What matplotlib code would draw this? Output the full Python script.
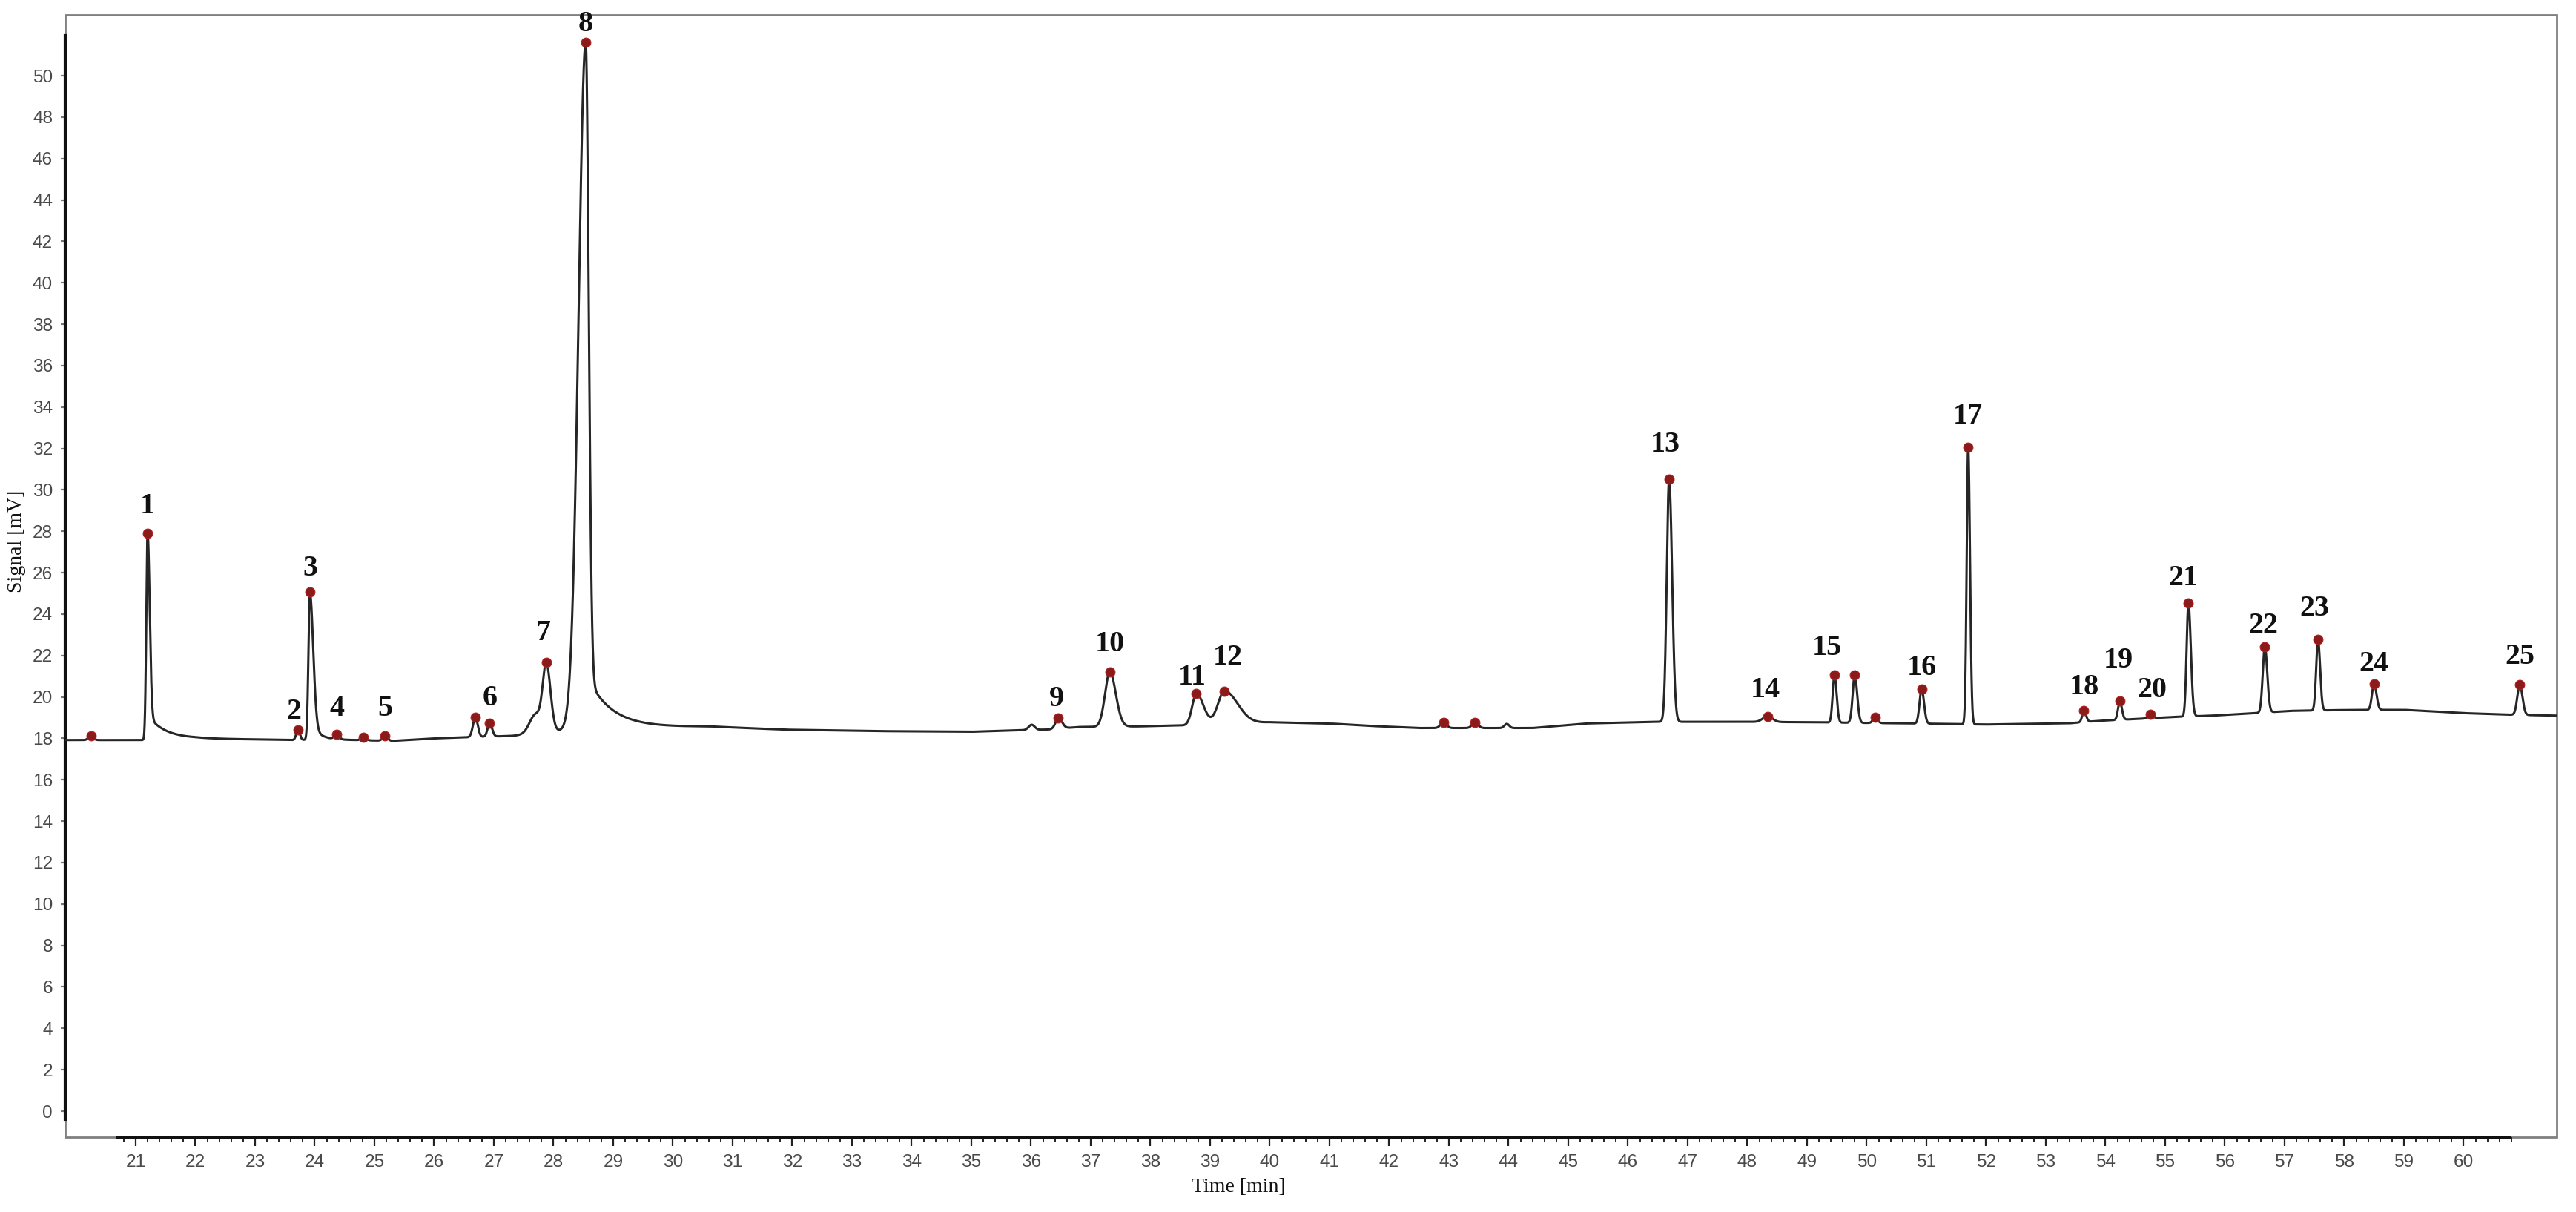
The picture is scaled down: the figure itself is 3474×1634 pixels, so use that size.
import numpy as np
import matplotlib
matplotlib.use("Agg")
import matplotlib.pyplot as plt
from matplotlib.patches import Rectangle

# ---------------- data ----------------
# integrated peaks (red markers): retention time [min], apex signal [mV]
peak_rt = [20.25, 21.20, 23.72, 23.92, 24.37, 24.82, 25.18, 26.69, 26.93, 27.88,
           28.54, 36.46, 37.32, 38.77, 39.24, 42.91, 43.44, 46.69, 48.34, 49.46,
           49.80, 50.14, 50.92, 51.70, 53.64, 54.24, 54.75, 55.39, 56.67, 57.56,
           58.50, 60.94]
peak_apex = [18.12, 27.90, 18.42, 25.07, 18.20, 18.06, 18.12, 19.03, 18.73, 21.68,
             51.62, 18.97, 21.20, 20.16, 20.28, 18.77, 18.78, 30.52, 19.07, 21.06,
             21.06, 19.03, 20.38, 32.06, 19.33, 19.80, 19.15, 24.53, 22.43, 22.79,
             20.64, 20.60]
peak_label = ['', '1', '2', '3', '4', '', '5', '', '6', '7',
              '8', '9', '10', '11', '12', '', '', '13', '14', '15',
              '', '', '16', '17', '18', '19', '20', '21', '22', '23',
              '24', '25']
# peak widths (front / back sigma, min) and tailing
peak_sigma_left = [0.04, 0.022, 0.03, 0.025, 0.04, 0.04, 0.04, 0.04, 0.035, 0.06,
                   0.12, 0.05, 0.08, 0.07, 0.11, 0.05, 0.05, 0.04, 0.08, 0.03,
                   0.035, 0.035, 0.035, 0.025, 0.03, 0.03, 0.04, 0.03, 0.035, 0.03,
                   0.035, 0.04]
peak_sigma_right = [0.04, 0.035, 0.03, 0.055, 0.04, 0.04, 0.04, 0.04, 0.04, 0.07,
                    0.05, 0.06, 0.10, 0.12, 0.22, 0.05, 0.05, 0.05, 0.08, 0.035,
                    0.04, 0.04, 0.04, 0.03, 0.035, 0.035, 0.04, 0.04, 0.04, 0.035,
                    0.04, 0.045]
peak_tail_frac = [0, 0.12, 0, 0.15, 0, 0, 0, 0, 0, 0,
                  0.08, 0, 0, 0, 0, 0, 0, 0, 0, 0,
                  0, 0, 0, 0, 0, 0, 0, 0, 0, 0,
                  0, 0]
peak_tail_tau = [0.1, 0.30, 0.1, 0.12, 0.1, 0.1, 0.1, 0.1, 0.1, 0.1,
                 0.40, 0.1, 0.1, 0.1, 0.1, 0.1, 0.1, 0.1, 0.1, 0.1,
                 0.1, 0.1, 0.1, 0.1, 0.1, 0.1, 0.1, 0.1, 0.1, 0.1,
                 0.1, 0.1]

# unmarked shoulders / small bumps
shoulder_rt = [27.70, 36.01, 43.97]
shoulder_level = [19.20, 18.66, 18.70]
shoulder_sigma = [0.10, 0.05, 0.04]

# baseline drift
base_t = [19.82, 20.60, 21.10, 22.00, 23.00, 23.60, 24.20, 25.30, 26.00, 26.50,
          27.30, 28.60, 30.60, 31.90, 33.50, 35.00, 35.50, 36.30, 36.80, 37.80,
          38.40, 39.00, 40.00, 41.00, 41.70, 42.50, 44.40, 45.30, 46.40, 48.00,
          49.00, 50.50, 52.00, 53.40, 53.90, 54.60, 55.10, 55.80, 56.40, 57.10,
          58.00, 59.00, 60.00, 60.70, 61.56]
base_v = [17.92, 17.92, 17.92, 17.98, 17.95, 17.92, 17.95, 17.88, 18.00, 18.05,
          18.12, 18.50, 18.57, 18.42, 18.35, 18.32, 18.37, 18.43, 18.55, 18.58,
          18.62, 18.65, 18.78, 18.72, 18.60, 18.50, 18.50, 18.72, 18.80, 18.80,
          18.78, 18.73, 18.67, 18.73, 18.85, 18.95, 19.03, 19.10, 19.20, 19.33,
          19.37, 19.38, 19.22, 19.15, 19.10]

x_ticks = list(range(21, 61))
y_ticks = list(range(0, 51, 2))

# ---------------- styling / layout ----------------
label_nudge = {  # (dx min, dy mV) tweaks of the peak-number labels
    '1': (0, 0.1), '2': (-0.07, -0.35), '3': (0, -0.1), '5': (0, 0.1),
    '7': (-0.05, 0.18), '8': (0, -0.35), '9': (-0.03, -0.28), '10': (0, 0.12),
    '11': (-0.07, -0.45), '12': (0.06, 0.39), '13': (-0.07, 0.45), '14': (-0.04, 0.05),
    '15': (-0.13, 0.08), '16': (0, -0.19), '17': (0, 0.25), '18': (0, -0.08),
    '19': (-0.03, 0.75), '20': (0.03, -0.05), '21': (-0.09, 0), '22': (-0.03, -0.21),
    '23': (-0.06, 0.25), '24': (0, -0.27), '25': (0, 0.12),
}

XLIM = (19.82, 61.56)
YLIM = (-1.254, 52.94)


def peak_shape(t, rt, sl, sr, f, tau):
    t = np.asarray(t, dtype=float)
    left = np.exp(-0.5 * ((t - rt) / sl) ** 2)
    dr = np.clip(t - rt, 0, None)
    right = (1 - f) * np.exp(-0.5 * (dr / sr) ** 2) + f * np.exp(-dr / tau)
    return np.where(t < rt, left, right)


comp_rt = list(peak_rt) + list(shoulder_rt)
comp_level = list(peak_apex) + list(shoulder_level)
comp_sl = list(peak_sigma_left) + list(shoulder_sigma)
comp_sr = list(peak_sigma_right) + list(shoulder_sigma)
comp_f = list(peak_tail_frac) + [0.0] * len(shoulder_rt)
comp_tau = list(peak_tail_tau) + [0.1] * len(shoulder_rt)

n = len(comp_rt)
A = np.zeros((n, n))
for j in range(n):
    A[:, j] = peak_shape(comp_rt, comp_rt[j], comp_sl[j], comp_sr[j], comp_f[j], comp_tau[j])
rhs = np.array(comp_level) - np.interp(comp_rt, base_t, base_v)
heights = np.linalg.solve(A, rhs)

t = np.arange(XLIM[0], XLIM[1], 0.002)
signal = np.interp(t, base_t, base_v)
for j in range(n):
    signal = signal + heights[j] * peak_shape(t, comp_rt[j], comp_sl[j], comp_sr[j],
                                              comp_f[j], comp_tau[j])

# ---------------- figure ----------------
fig = plt.figure(figsize=(17.37, 8.17), dpi=200)
ax = fig.add_axes([0.02533, 0.0618, 0.96719, 0.92596])
ax.set_xlim(*XLIM)
ax.set_ylim(*YLIM)

ax.plot(t, signal, color='#262626', lw=1.1, zorder=3)
ax.plot(peak_rt, peak_apex, 'o', ms=4.6, color='#8b1a1a', mec='#b02020', mew=0.4,
        zorder=4, clip_on=False)

for rt, apex, lab in zip(peak_rt, peak_apex, peak_label):
    if not lab:
        continue
    dx, dy = label_nudge.get(lab, (0, 0))
    ax.text(rt + dx, apex + 0.88 + dy, lab, ha='center', va='baseline',
            fontfamily='Liberation Serif', fontweight='bold', fontsize=14.4,
            color='#111111', zorder=6, clip_on=False)

# frame and spines
for s in ['top', 'right']:
    ax.spines[s].set_visible(False)
ax.add_patch(Rectangle((0, 0), 1, 1, transform=ax.transAxes, fill=False,
                       ec='#808080', lw=1.0, zorder=1, clip_on=False))
ax.spines['left'].set_bounds(-0.4, 51.95)
ax.spines['left'].set_color('#111111')
ax.spines['left'].set_linewidth(1.5)
ax.spines['bottom'].set_bounds(20.69, 60.76)
ax.spines['bottom'].set_color('#111111')
ax.spines['bottom'].set_linewidth(1.8)

ax.set_xticks(x_ticks)
ax.set_xticks(np.arange(20.8, 60.81, 0.2), minor=True)
ax.set_yticks(y_ticks)
ax.tick_params(axis='x', which='major', length=4.2, width=0.8, color='#222222',
               pad=4.0, labelsize=8.8, labelcolor='#4a4a4a')
ax.tick_params(axis='x', which='minor', length=2.2, width=0.7, color='#222222')
ax.tick_params(axis='y', which='major', length=2.0, width=0.8, color='#777777',
               pad=4.1, labelsize=8.8, labelcolor='#4a4a4a')
for lab in ax.get_xticklabels() + ax.get_yticklabels():
    lab.set_fontfamily('Liberation Sans')

ax.set_xlabel('Time [min]', fontfamily='Liberation Serif', fontsize=10, color='#111111')
ax.xaxis.label.set_va('center')
ax.xaxis.set_label_coords(0.471, -0.0443)
ax.set_ylabel('Signal [mV]', fontfamily='Liberation Serif', fontsize=10, color='#111111')
ax.yaxis.label.set_va('center')
ax.yaxis.set_label_coords(-0.0196, 0.531)

fig.savefig('out.png', dpi=200, facecolor='white')
